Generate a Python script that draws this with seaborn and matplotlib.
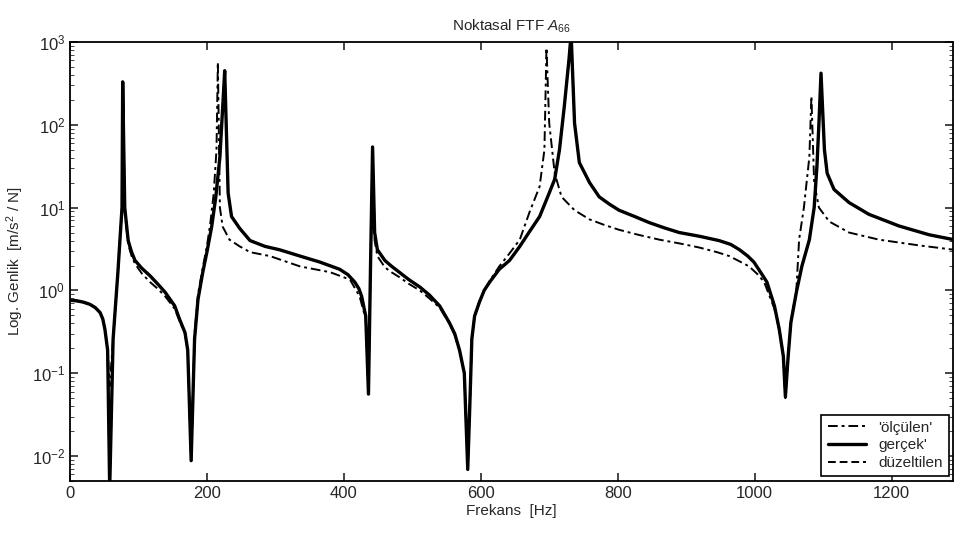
"""
Noktasal FTF A66: ölçülen / gerçek / düzeltilen genlik eğrileri (log ölçek).
"""

import matplotlib
matplotlib.use("Agg")
import matplotlib.pyplot as plt
import seaborn as sns
import pandas as pd

# 'ölçülen' (dash-dot)
olculen_hz = [0, 10, 20, 29, 37, 44, 48, 51, 55, 58, 63, 70, 73, 76, 77, 80, 85, 90,
              95, 105, 117, 128, 139, 153, 160, 168, 172, 177, 182, 187, 194, 200,
              205, 210, 214, 216, 219, 223, 233, 248, 263, 292, 336, 380, 409, 423,
              432, 436, 439, 442, 445, 449, 460, 470, 481, 495, 511, 525, 540, 554,
              562, 569, 576, 581, 584, 587, 591, 598, 605, 613, 627, 642, 657, 671,
              686, 693, 696, 700, 708, 718, 737, 759, 780, 802, 830, 861, 890, 919,
              945, 963, 980, 992, 1005, 1014, 1029, 1036, 1042, 1045, 1049, 1053,
              1061, 1065, 1072, 1080, 1083, 1087, 1094, 1109, 1138, 1182, 1240, 1291]
olculen_amp = [0.75, 0.74, 0.71, 0.68, 0.62, 0.54, 0.45, 0.34, 0.19, 0.07, 0.26, 1.66,
               4.1, 10, 300, 9, 3.6, 2.6, 2.1, 1.6, 1.26, 1.05, 0.85, 0.6, 0.43, 0.3,
               0.19, 0.0088, 0.3, 0.9, 1.9, 3.4, 6.5, 15, 50, 570, 10, 5.9, 4.1, 3.4,
               2.9, 2.6, 1.95, 1.66, 1.35, 0.85, 0.45, 0.06, 1.8, 40, 4.0, 2.6, 1.9,
               1.65, 1.45, 1.2, 1.0, 0.8, 0.62, 0.4, 0.29, 0.19, 0.10, 0.007, 0.04,
               0.26, 0.5, 0.74, 1.0, 1.3, 1.95, 2.8, 4.1, 8.7, 18, 50, 850, 105, 26,
               13.5, 9.3, 7.2, 6.2, 5.4, 4.7, 4.1, 3.7, 3.3, 2.9, 2.6, 2.2, 1.95, 1.55,
               1.26, 0.6, 0.33, 0.16, 0.05, 0.16, 0.42, 1.0, 4.1, 10, 41, 220, 20, 10,
               6.8, 5.0, 4.1, 3.5, 3.1]

# gerçek' (solid)
gercek_hz = [0, 10, 20, 29, 37, 44, 48, 51, 55, 58, 63, 70, 73, 76, 77, 80, 85, 90,
             95, 105, 117, 128, 139, 153, 160, 168, 172, 177, 182, 187, 194, 200, 207,
             213, 219, 223, 226, 231, 236, 248, 263, 285, 306, 336, 365, 394, 406, 416,
             422, 426, 432, 436, 439, 442, 445, 449, 460, 470, 481, 495, 511, 525, 540,
             554, 562, 569, 576, 581, 584, 587, 591, 598, 605, 613, 627, 642, 657, 671,
             686, 700, 708, 715, 722, 729, 732, 737, 744, 759, 773, 788, 802, 825, 846,
             868, 890, 920, 948, 965, 978, 990, 999, 1010, 1018, 1029, 1036, 1042,
             1045, 1049, 1053, 1061, 1069, 1080, 1087, 1091, 1094, 1097, 1102, 1106,
             1116, 1138, 1167, 1211, 1255, 1291]
gercek_amp = [0.76, 0.75, 0.72, 0.68, 0.62, 0.54, 0.45, 0.34, 0.19, 0.004, 0.26, 1.66,
              4.1, 10, 330, 10, 4.0, 2.9, 2.3, 1.85, 1.5, 1.2, 0.95, 0.65, 0.45, 0.31,
              0.19, 0.0088, 0.26, 0.78, 1.66, 2.9, 5.9, 13.5, 41, 160, 450, 15, 7.8,
              5.6, 4.0, 3.4, 3.1, 2.6, 2.2, 1.8, 1.55, 1.26, 1.05, 0.85, 0.49, 0.056,
              2.0, 54, 5.0, 3.1, 2.3, 1.95, 1.66, 1.35, 1.1, 0.88, 0.65, 0.41, 0.3,
              0.19, 0.10, 0.0069, 0.04, 0.26, 0.49, 0.72, 1.0, 1.26, 1.8, 2.3, 3.4,
              5.1, 7.8, 15, 22, 50, 166, 630, 1250, 105, 35, 20, 13.5, 11, 9.3, 7.8,
              6.6, 5.7, 5.0, 4.5, 4.0, 3.6, 3.1, 2.6, 2.2, 1.6, 1.26, 0.65, 0.34, 0.16,
              0.052, 0.16, 0.41, 0.95, 1.95, 4.1, 10, 31, 105, 420, 50, 26, 16.6, 11.5,
              8.3, 6.0, 4.7, 4.1]

# düzeltilen (dashed) - gerçek ile üst üste
duzeltilen_hz = list(gercek_hz)
duzeltilen_amp = list(gercek_amp)

sns.set_style("ticks")
plt.rcParams["font.family"] = ["Liberation Sans", "DejaVu Sans"]
plt.rcParams["mathtext.fontset"] = "custom"
plt.rcParams["mathtext.rm"] = "Liberation Sans"
plt.rcParams["mathtext.it"] = "Liberation Sans:italic"

fig = plt.figure(figsize=(9.56, 5.33), dpi=100)
ax = fig.add_axes([0.0732, 0.0976, 0.9238, 0.8236])

df_o = pd.DataFrame({"f": olculen_hz, "a": olculen_amp})
df_g = pd.DataFrame({"f": gercek_hz, "a": gercek_amp})
df_d = pd.DataFrame({"f": duzeltilen_hz, "a": duzeltilen_amp})

sns.lineplot(data=df_o, x="f", y="a", ax=ax, color="black", linewidth=1.4,
             linestyle=(0, (5, 2, 1.5, 2)), label="'ölçülen'", estimator=None, sort=False)
sns.lineplot(data=df_g, x="f", y="a", ax=ax, color="black", linewidth=2.4,
             label="gerçek'", estimator=None, sort=False)
sns.lineplot(data=df_d, x="f", y="a", ax=ax, color="black", linewidth=1.4,
             linestyle=(0, (4, 2)), label="düzeltilen", estimator=None, sort=False)

ax.set_yscale("log")
ax.set_xlim(0, 1290)
ax.set_ylim(5e-3, 1e3)
ax.set_xticks([0, 200, 400, 600, 800, 1000, 1200])

ax.set_title("Noktasal FTF $\\mathit{A}_{66}$", fontsize=11, pad=8)
ax.set_xlabel("Frekans  [Hz]", fontsize=11, labelpad=2)
ax.set_ylabel("Log. Genlik  [m/s$^2$ / N]", fontsize=11, labelpad=4)

ax.tick_params(which="both", direction="in", top=True, right=True, labelsize=12)
ax.tick_params(which="major", length=6, width=1.2)
ax.tick_params(which="minor", length=3)
for s in ax.spines.values():
    s.set_linewidth(1.3)
    s.set_color("black")

leg = ax.legend(loc="lower right", fontsize=11, frameon=True, fancybox=False,
                borderaxespad=0.3, handlelength=2.5, labelspacing=0.25)
leg.get_frame().set_edgecolor("black")
leg.get_frame().set_linewidth(1.2)
leg.get_frame().set_alpha(1)

fig.savefig("out.png", dpi=100)
